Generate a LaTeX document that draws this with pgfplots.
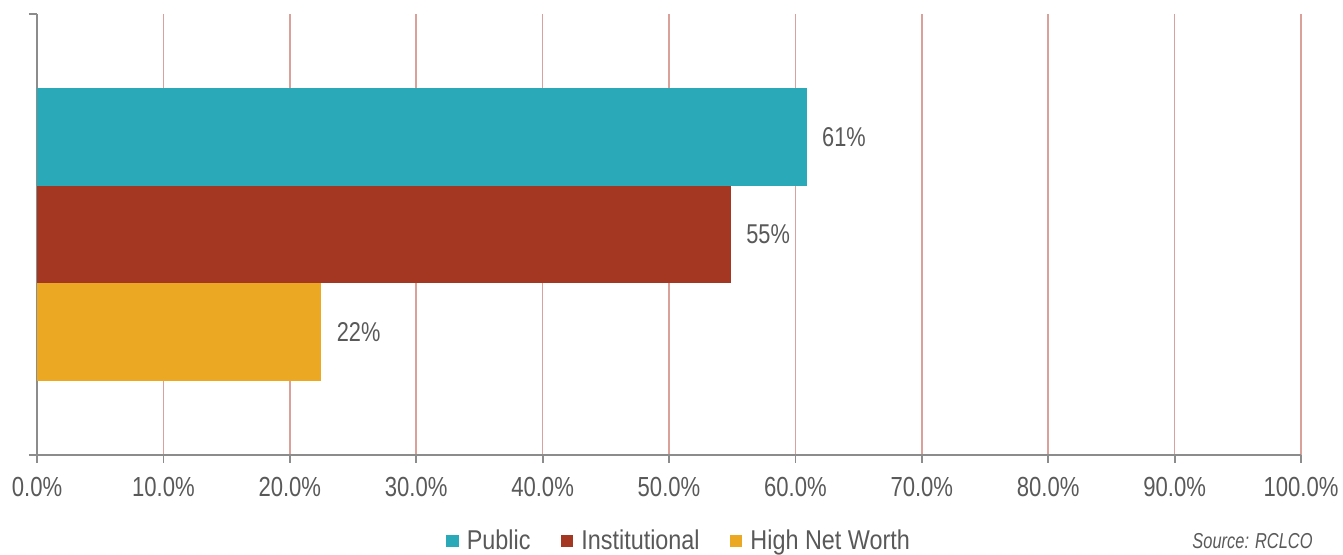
\documentclass[border=0pt]{standalone}
\usepackage{pgfplots}
\pgfplotsset{compat=1.18}
\usepackage{fontspec}
\setmainfont{Liberation Sans}[FakeStretch=0.86]
\newfontfamily\tickfont{Liberation Sans}[FakeStretch=0.8]
\newfontfamily\srcfont{Liberation Sans}[FakeStretch=0.76]
\definecolor{cPub}{HTML}{2AA9B8}
\definecolor{cInst}{HTML}{A33721}
\definecolor{cHNW}{HTML}{EAA823}
\definecolor{gridred}{HTML}{D9A199}
\definecolor{axgray}{HTML}{8C8C8C}
\definecolor{txt}{HTML}{595959}
\begin{document}
\begin{tikzpicture}
\useasboundingbox (0,0) rectangle (671.5pt,277.5pt);
\begin{axis}[
  at={(18.5pt,50pt)}, anchor=south west,
  scale only axis, width=632pt, height=220.5pt,
  xmin=0, xmax=100, ymin=-1.257, ymax=3.257,
  xbar, bar width=1, bar shift=0pt,
  axis lines*=left,
  axis line style={axgray, line width=0.9pt},
  xtick={0,10,20,30,40,50,60,70,80,90,100},
  xticklabels={0.0\%,10.0\%,20.0\%,30.0\%,40.0\%,50.0\%,60.0\%,70.0\%,80.0\%,90.0\%,100.0\%},
  xmajorgrids, grid style={gridred, line width=0.85pt},
  ytick={-1.257,3.257}, yticklabels={},
  tick align=outside, major tick length=4pt,
  tick style={axgray, line width=0.9pt},
  x tick label style={font=\tickfont\fontsize{13.8}{16}\selectfont, text=txt, yshift=-3.5pt},
  nodes near coords, point meta=explicit symbolic,
  nodes near coords style={font=\tickfont\fontsize{13.6}{16}\selectfont, text=txt, anchor=west, inner sep=0pt, xshift=7.5pt},
  legend columns=3,
  legend style={at={(0.5,0)}, anchor=center, yshift=-43pt, xshift=5.5pt, draw=none, fill=none,
    font=\fontsize{13.6}{15}\selectfont, text=txt,
    /tikz/every odd column/.append style={column sep=2pt},
    /tikz/every even column/.append style={column sep=13pt}},
  legend image code/.code={\fill[#1] (0pt,-3.2pt) rectangle (6.4pt,3.2pt);},
]
\addplot[fill=cPub, draw=none] coordinates {(60.9,2) [61\%]};
\addlegendentry{Public}
\addplot[fill=cInst, draw=none] coordinates {(54.9,1) [55\%]};
\addlegendentry{Institutional}
\addplot[fill=cHNW, draw=none] coordinates {(22.5,0) [22\%]};
\addlegendentry{High Net Worth}
\end{axis}
\node[anchor=east, inner sep=0pt, font=\srcfont\itshape\fontsize{10.8}{13}\selectfont, text=txt] at (656.5pt,7pt) {Source: RCLCO};
\end{tikzpicture}
\end{document}
